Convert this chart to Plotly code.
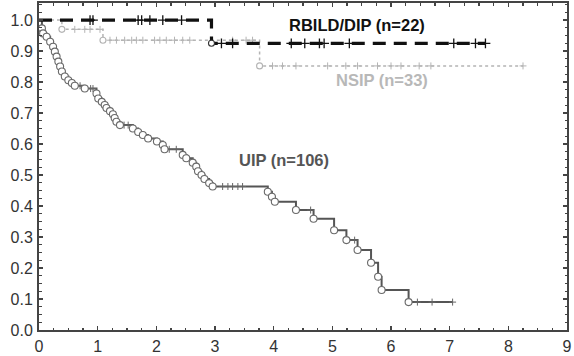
import plotly.graph_objects as go

# ---- data ----
# status: "s" = start, "e" = event (circle), "c" = censored (+)
uip_time = [0.00, 0.05, 0.07, 0.13, 0.19, 0.24, 0.27, 0.30, 0.33, 0.36, 0.39, 0.44, 0.50, 0.56, 0.61,
            0.70, 0.78, 0.88, 0.92, 0.98, 1.01, 1.07, 1.12, 1.15, 1.21, 1.26, 1.29, 1.32, 1.38,
            1.45, 1.52, 1.60, 1.69, 1.77, 1.86, 1.90, 2.01, 2.11, 2.14, 2.22, 2.34, 2.45, 2.48,
            2.51, 2.62, 2.68, 2.71, 2.77, 2.82, 2.90, 2.96, 3.13, 3.22, 3.30, 3.39, 3.47, 3.90,
            3.97, 4.02, 4.38, 4.63, 4.68, 5.03, 5.24, 5.38, 5.43, 5.66, 5.78, 5.84, 6.30, 6.45,
            6.70, 7.05]
uip_surv = [1.000, 0.973, 0.957, 0.946, 0.930, 0.914, 0.898, 0.882, 0.866, 0.850, 0.834, 0.818, 0.806, 0.797, 0.788,
            0.788, 0.779, 0.779, 0.779, 0.763, 0.747, 0.736, 0.726, 0.716, 0.706, 0.696, 0.684, 0.672, 0.661,
            0.661, 0.661, 0.650, 0.639, 0.629, 0.618, 0.618, 0.608, 0.597, 0.583, 0.583, 0.583, 0.565, 0.565,
            0.554, 0.540, 0.527, 0.512, 0.500, 0.487, 0.474, 0.463, 0.463, 0.463, 0.463, 0.463, 0.463, 0.446,
            0.430, 0.414, 0.387, 0.387, 0.359, 0.322, 0.290, 0.290, 0.258, 0.217, 0.172, 0.129, 0.090, 0.090,
            0.090, 0.090]
uip_status = ["s", "e", "e", "e", "e", "e", "e", "e", "e", "e", "e", "e", "e", "e", "e",
              "c", "e", "c", "c", "e", "e", "e", "e", "e", "e", "e", "e", "e", "e",
              "c", "c", "e", "e", "e", "e", "c", "e", "e", "e", "c", "c", "e", "c",
              "e", "e", "e", "e", "e", "e", "e", "e", "c", "c", "c", "c", "c", "e",
              "e", "e", "e", "c", "e", "e", "e", "c", "e", "e", "e", "e", "e", "c",
              "c", "c"]

rbild_time = [0.00, 0.87, 0.92, 1.69, 1.75, 1.89, 2.11, 2.43, 2.94, 3.11, 3.30, 4.30, 4.53, 4.78,
              4.86, 5.29, 7.07, 7.44, 7.61]
rbild_surv = [1.000, 1.000, 1.000, 1.000, 1.000, 1.000, 1.000, 1.000, 0.925, 0.925, 0.925, 0.925,
              0.925, 0.925, 0.925, 0.925, 0.925, 0.925, 0.925]
rbild_status = ["s", "c", "c", "c", "c", "c", "c", "c", "e", "c", "c", "c", "c", "c", "c", "c", "c", "c", "c"]

nsip_time = [0.00, 0.39, 0.61, 0.78, 0.87, 1.04, 1.09, 1.21, 1.32, 1.46, 1.58, 1.66, 1.77, 1.97,
             2.06, 2.17, 2.31, 2.45, 2.57, 3.30, 3.53, 3.64, 3.76, 3.98, 4.15, 4.38, 4.92, 5.23,
             5.43, 5.77, 6.00, 6.17, 6.48, 6.68, 8.25]
nsip_surv = [1.000, 0.970, 0.970, 0.970, 0.970, 0.970, 0.935, 0.935, 0.935, 0.935, 0.935, 0.935,
             0.935, 0.935, 0.935, 0.935, 0.935, 0.935, 0.935, 0.935, 0.935, 0.935, 0.852, 0.852,
             0.852, 0.852, 0.852, 0.852, 0.852, 0.852, 0.852, 0.852, 0.852, 0.852, 0.852]
nsip_status = ["s", "e", "c", "c", "c", "c", "e", "c", "c", "c", "c", "c", "c", "c", "c", "c", "c",
               "c", "c", "c", "c", "c", "e", "c", "c", "c", "c", "c", "c", "c", "c", "c", "c", "c", "c"]

x_ticks = [0, 1, 2, 3, 4, 5, 6, 7, 8, 9]
y_ticks = [0.0, 0.1, 0.2, 0.3, 0.4, 0.5, 0.6, 0.7, 0.8, 0.9, 1.0]

labels = ["UIP (n=106)", "RBILD/DIP (n=22)", "NSIP (n=33)"]
label_x = [4.17, 5.42, 5.85]
label_y = [0.548, 0.984, 0.806]

FONT = "Liberation Sans, Arial, sans-serif"

fig = go.Figure()


def add_curve(t, s, st, color, width, dash, msize, mline, cross_color, cross_size, cross_w):
    fig.add_trace(go.Scatter(x=t, y=s, mode="lines", line=dict(color=color, width=width, dash=dash, shape="hv"),
                             hoverinfo="skip", showlegend=False))
    ex = [a for a, k in zip(t, st) if k == "e"]
    ey = [b for b, k in zip(s, st) if k == "e"]
    cx = [a for a, k in zip(t, st) if k == "c"]
    cy = [b for b, k in zip(s, st) if k == "c"]
    fig.add_trace(go.Scatter(x=cx, y=cy, mode="markers",
                             marker=dict(symbol="cross-thin", size=cross_size,
                                         line=dict(color=cross_color, width=cross_w)),
                             hoverinfo="skip", showlegend=False))
    fig.add_trace(go.Scatter(x=ex, y=ey, mode="markers",
                             marker=dict(symbol="circle", size=msize, color="white",
                                         line=dict(color=mline, width=1.1)),
                             hoverinfo="skip", showlegend=False))


add_curve(nsip_time, nsip_surv, nsip_status, "#b4b4b4", 1.5, "dot", 6, "#b4b4b4", "#b4b4b4", 5, 1)
add_curve(uip_time, uip_surv, uip_status, "#555555", 2, "solid", 7, "#6a6a6a", "#666666", 5, 1)
add_curve(rbild_time, rbild_surv, rbild_status, "#111111", 3.2, "13px,8px", 6, "#333333", "#111111", 7, 1.3)

label_colors = ["#555555", "#111111", "#b8b8b8"]
for txt, lx, ly, c in zip(labels, label_x, label_y, label_colors):
    fig.add_annotation(x=lx, y=ly, text="<b>" + txt + "</b>", showarrow=False,
                       font=dict(family=FONT, size=16.5, color=c), xanchor="center", yanchor="middle")

axis_common = dict(showline=True, linecolor="#444444", linewidth=2, mirror="allticks",
                   ticks="inside", ticklen=4, tickwidth=1.2, tickcolor="#444444",
                   showgrid=False, zeroline=False, automargin=False,
                   tickfont=dict(family=FONT, size=16, color="#333333"))

fig.update_xaxes(range=[0, 9], tickvals=x_ticks, ticktext=[str(v) for v in x_ticks],
                 ticklabelstandoff=1,
                 minor=dict(dtick=0.25, ticks="inside", ticklen=2.5, tickcolor="#444444", showgrid=False),
                 **axis_common)
fig.update_yaxes(range=[0, 1.055], tickvals=y_ticks, ticktext=["%.1f" % v for v in y_ticks],
                 ticklabelstandoff=1,
                 minor=dict(dtick=0.025, ticks="inside", ticklen=2.5, tickcolor="#444444", showgrid=False),
                 **axis_common)

fig.update_layout(width=574, height=356, margin=dict(l=39, r=7, t=3, b=26),
                  paper_bgcolor="white", plot_bgcolor="white", showlegend=False)

fig.write_html("out.html", config={"displayModeBar": False, "staticPlot": True},
               post_script="document.body.style.margin='0';document.body.style.overflow='hidden';")
